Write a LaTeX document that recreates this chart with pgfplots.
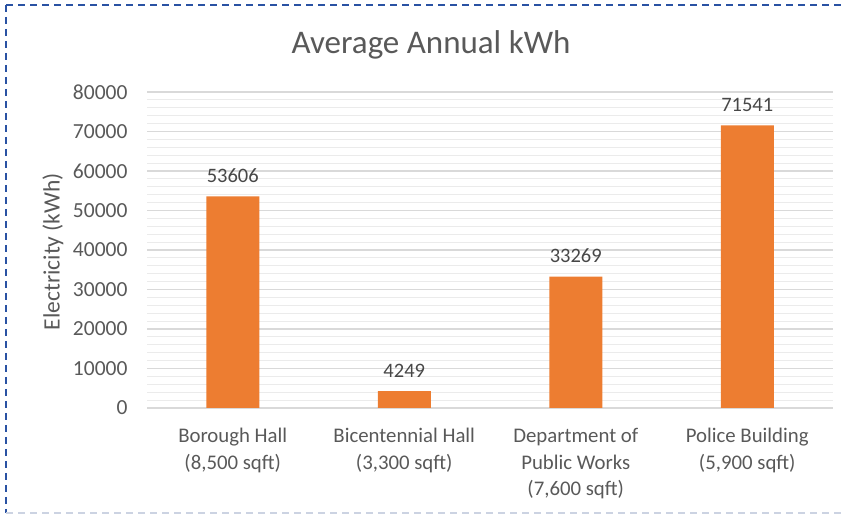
\documentclass[border=0pt]{standalone}
\usepackage{pgfplots}
\pgfplotsset{compat=1.18}
\usepackage{fontspec}
\setmainfont{Carlito}
\definecolor{barorange}{HTML}{ED7D31}
\definecolor{txtgray}{HTML}{595959}
\definecolor{gridmaj}{HTML}{D9D9D9}
\definecolor{gridmin}{HTML}{EBEBEB}
\definecolor{borderblue}{HTML}{2A52A3}
\definecolor{borderlight}{HTML}{CCD3E2}
\begin{document}
\begin{tikzpicture}[x=1pt,y=1pt]
\useasboundingbox (0,0) rectangle (846,514);
\draw[borderblue, line width=1.6pt, dash pattern=on 7pt off 5pt] (6,509) -- (842,509);
\draw[borderblue, line width=1.6pt, dash pattern=on 7pt off 5pt] (6,509) -- (6,1);
\draw[borderlight, line width=1.2pt, dash pattern=on 7pt off 5pt] (6,1) -- (846,1);
\begin{axis}[
  at={(147pt,106pt)}, anchor=south west,
  scale only axis, width=686pt, height=316pt,
  xmin=-0.5, xmax=3.5, ymin=0, ymax=80000,
  ytick distance=10000, minor y tick num=4,
  ymajorgrids, yminorgrids,
  major grid style={gridmaj, line width=1.2pt},
  minor grid style={gridmin, line width=1pt},
  axis line style={draw=none},
  major tick length=0pt, minor tick length=0pt,
  xtick=data,
  xticklabels={{Borough Hall\\(8,500 sqft)},{Bicentennial Hall\\(3,300 sqft)},{Department of\\Public Works\\(7,600 sqft)},{Police Building\\(5,900 sqft)}},
  x tick label style={align=center, font=\fontsize{20.8}{26.5}\selectfont, text=txtgray, yshift=-17pt},
  y tick label style={font=\fontsize{21.5}{26}\selectfont, text=txtgray, xshift=-16pt},
  /pgf/number format/assume math mode=true,
  /pgf/number format/1000 sep={},
  scaled y ticks=false,
  ylabel={Electricity (kWh)},
  ylabel style={at={(axis description cs:-0.137,0.495)}, anchor=center, font=\fontsize{23.5}{28}\selectfont, text=txtgray},
  title={Average Annual kWh},
  title style={at={(axis description cs:0.414,1.13)}, anchor=center, font=\fontsize{33}{38}\selectfont, text=txtgray},
  nodes near coords, point meta=explicit symbolic,
  every node near coord/.append style={font=\fontsize{20.5}{26}\selectfont, text=txtgray!80!black, yshift=10pt},
  clip=false,
]
\addplot[ybar, bar width=53pt, fill=barorange, draw=none] coordinates {
  (0,53606) [53606]
  (1,4249) [4249]
  (2,33269) [33269]
  (3,71541) [71541]
};
\end{axis}
\end{tikzpicture}
\end{document}
